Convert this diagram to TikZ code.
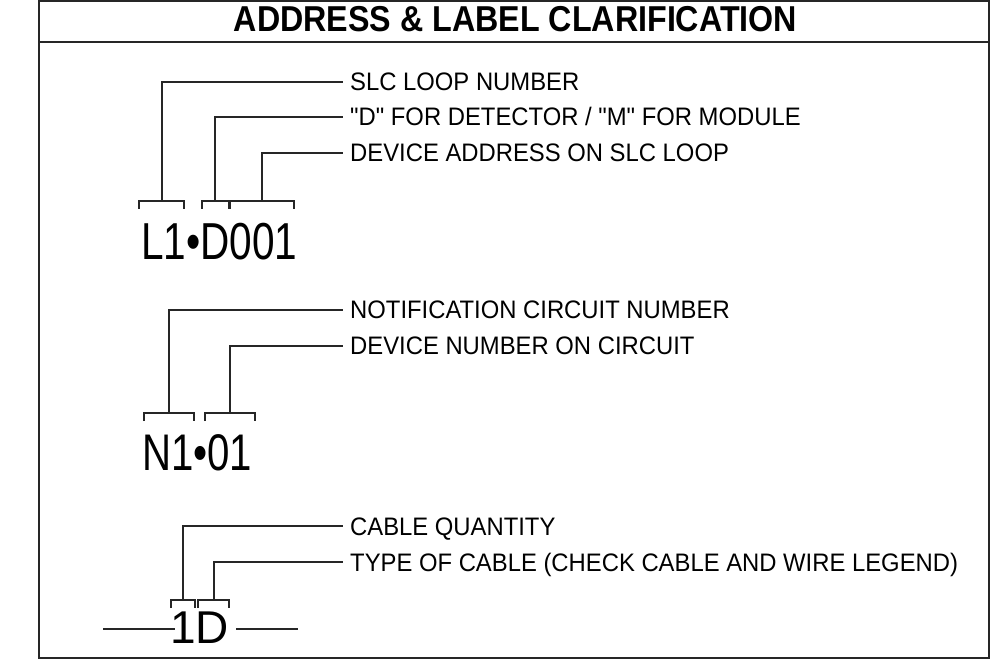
\documentclass[tikz,border=0pt]{standalone}
\usepackage{fontspec}
\setmainfont{Liberation Sans}
\newfontfamily\lblfont[FakeStretch=0.942]{Liberation Sans}
\newfontfamily\bigfont[FakeStretch=0.78]{Liberation Sans}
\newfontfamily\titlefont[FakeStretch=0.895]{Liberation Sans}
\begin{document}
\begin{tikzpicture}[x=1pt,y=-1pt,
  frame/.style={line width=2pt, draw=black!85},
  conn/.style={line width=1.5pt, draw=black!85},
  brk/.style={line width=1.5pt, draw=black!85},
  lbl/.style={anchor=west, inner xsep=7pt, inner ysep=0pt, text height=18pt, text depth=0pt, font=\lblfont\fontsize{25.3}{27}\selectfont},
  big/.style={anchor=base west, inner sep=0pt, font=\bigfont\fontsize{52}{56}\selectfont},
]
\useasboundingbox (0,0) rectangle (1004,668);
\draw[frame] (39,1) rectangle (989,658);
\draw[frame] (39,42) -- (989,42);
\node[anchor=base, font=\titlefont\bfseries\fontsize{36}{40}\selectfont, inner sep=0pt] (title) at (515.5,32) {ADDRESS \& LABEL CLARIFICATION};

% group 1
\node[lbl] (l1) at (343,82) {SLC LOOP NUMBER};
\node[lbl] (l2) at (343,117) {"D" FOR DETECTOR / "M" FOR MODULE};
\node[lbl] (l3) at (343,153) {DEVICE ADDRESS ON SLC LOOP};
\draw[brk] (139,209) -- (139,201) -- (184,201) -- (184,209);
\draw[brk] (202,209) -- (202,201) -- (229,201) -- (229,209);
\draw[brk] (230,209) -- (230,201) -- (294,201) -- (294,209);
\coordinate (a1) at (162,201);
\coordinate (a2) at (215,201);
\coordinate (a3) at (262,201);
\draw[conn] (a1) |- (l1.west);
\draw[conn] (a2) |- (l2.west);
\draw[conn] (a3) |- (l3.west);
\node[big] (t1) at (141,260) {L1•D001};

% group 2
\node[lbl] (l4) at (343,310) {NOTIFICATION CIRCUIT NUMBER};
\node[lbl] (l5) at (343,346) {DEVICE NUMBER ON CIRCUIT};
\draw[brk] (144,421) -- (144,413) -- (194,413) -- (194,421);
\draw[brk] (205,421) -- (205,413) -- (255,413) -- (255,421);
\coordinate (a4) at (169,413);
\coordinate (a5) at (230,413);
\draw[conn] (a4) |- (l4.west);
\draw[conn] (a5) |- (l5.west);
\node[big, font=\bigfont\fontsize{51.5}{55}\selectfont] (t2) at (142,470) {N1•01};

% group 3
\node[lbl] (l6) at (343,526) {CABLE QUANTITY};
\node[lbl] (l7) at (343,562) {TYPE OF CABLE (CHECK CABLE AND WIRE LEGEND)};
\draw[brk] (171,608) -- (171,600) -- (195,600) -- (195,608);
\draw[brk] (198,608) -- (198,600) -- (229,600) -- (229,608);
\coordinate (a6) at (183,600);
\coordinate (a7) at (214,600);
\draw[conn] (a6) |- (l6.west);
\draw[conn] (a7) |- (l7.west);
\node[big, font=\fontsize{46}{50}\selectfont] (t3) at (170,643) {1D};
\coordinate (w3) at (103,629);
\coordinate (e3) at (298,629);
\draw[conn] (w3) -- (175,629);
\draw[conn] (236,629) -- (e3);
\end{tikzpicture}
\end{document}
